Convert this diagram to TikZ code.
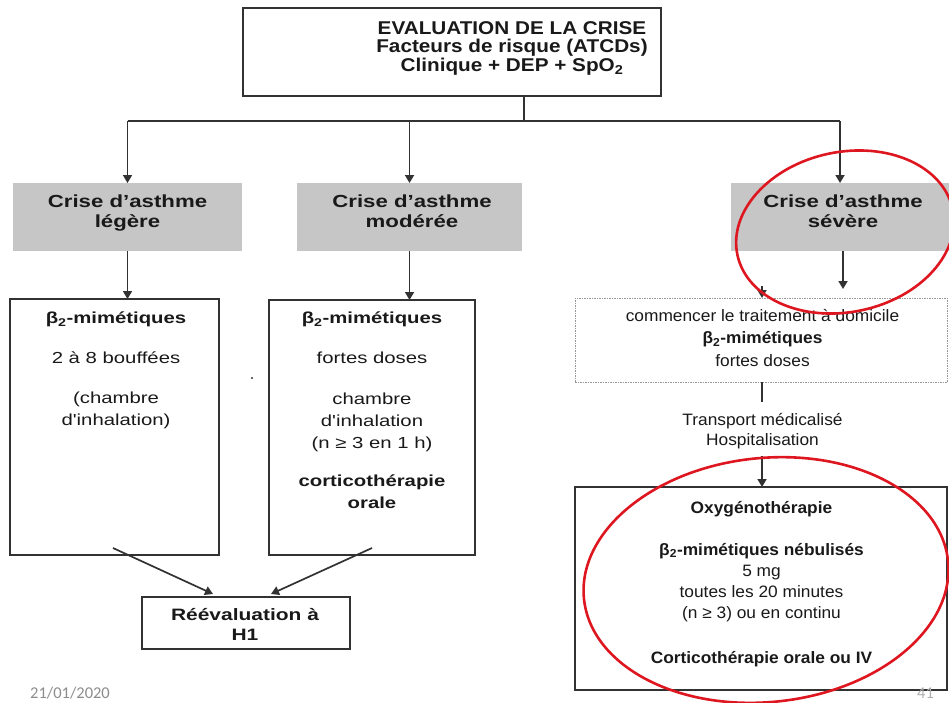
\documentclass[tikz,border=0pt]{standalone}
\usepackage{fontspec}
\usetikzlibrary{arrows.meta}

% Arial-metric sans faces, widened to the proportions of the slide text
\newfontfamily\topfont[FakeStretch=1.12]{Liberation Sans}
\newfontfamily\leftfont[FakeStretch=1.27]{Liberation Sans}
\newfontfamily\rightfont[FakeStretch=1.05]{Liberation Sans}
\newfontfamily\datefont{Carlito}

\definecolor{ink}{RGB}{25,25,25}
\definecolor{framecol}{RGB}{50,50,50}
\definecolor{boxgray}{RGB}{198,198,198}
\definecolor{dotcol}{RGB}{150,150,150}
\definecolor{ringred}{RGB}{222,22,32}
\definecolor{datecol}{RGB}{140,140,140}
\definecolor{pagecol}{RGB}{175,175,175}

\begin{document}
\begin{tikzpicture}[x=1pt,y=-1pt,
  framebox/.style={draw=framecol, line width=1.6pt, inner sep=0pt, outer sep=0pt},
  graybox/.style={fill=boxgray, draw=none, inner sep=0pt, outer sep=0pt},
  dotbox/.style={draw=dotcol, line width=0.9pt, dash pattern=on 1.5pt off 1pt, inner sep=0pt, outer sep=0pt},
  txt/.style={text=ink, align=center, inner sep=0pt, anchor=north},
  arr/.style={draw=framecol, line width=1.7pt, -{Triangle[length=8pt,width=9pt]}},
  conn/.style={draw=framecol, line width=1.7pt},
  ring/.style={draw=ringred, line width=2.6pt},
  lbold/.style={font=\leftfont\bfseries\fontsize{17.5}{20}\selectfont},
  lbody/.style={font=\leftfont\fontsize{16}{22}\selectfont},
  rbody/.style={font=\rightfont\fontsize{16.5}{22.5}\selectfont}]
\useasboundingbox (0,0) rectangle (949,702);

% ---- assessment box
\node[framebox, minimum width=418pt, minimum height=88pt] (eval) at (452,52) {};
\node[txt, font=\topfont\bfseries\fontsize{18.5}{18.8}\selectfont] (evaltxt) at (512,21)
  {EVALUATION DE LA CRISE\\Facteurs de risque (ATCDs)\\Clinique + DEP + SpO\textsubscript{2}};

% ---- severity levels
\node[graybox, minimum width=229pt, minimum height=68pt] (legere) at (127.5,217) {};
\node[graybox, minimum width=225pt, minimum height=68pt] (moderee) at (409.5,217) {};
\node[graybox, minimum width=218pt, minimum height=68pt] (severe) at (840,217) {};
\node[txt, lbold] (legeretxt) at (127.5,195) {Crise d’asthme\\légère};
\node[txt, lbold] (modereetxt) at (412,195) {Crise d’asthme\\modérée};
\node[txt, lbold] (severetxt) at (843,195) {Crise d’asthme\\sévère};

\coordinate (hub) at (524,121);
\draw[conn] (eval.south -| hub) -- (hub);
\draw[conn] (legere.north |- hub) -- (severe.north |- hub);
\draw[arr] (legere.north |- hub) -- (legere.north);
\draw[arr] (moderee.north |- hub) -- (moderee.north);
\draw[arr] (severe.north |- hub) -- (severe.north);

% ---- mild attack
\node[framebox, minimum width=209pt, minimum height=256pt] (mild) at (114.5,427) {};
\node[txt, lbody] (mildtxt) at (116,312)
  {\textbf{β\textsubscript{2}-mimétiques}\\[18pt]2 à 8 bouffées\\[18pt](chambre\\d'inhalation)};
\draw[arr] (legere.south) -- (legere.south |- mild.north);

% ---- moderate attack
\node[framebox, minimum width=206pt, minimum height=255pt] (moder) at (372,427.5) {};
\node[txt, lbody] (modertxt) at (372,312)
  {\textbf{β\textsubscript{2}-mimétiques}\\[18pt]fortes doses\\[19pt]chambre\\d'inhalation\\(n ≥ 3 en 1 h)\\[16pt]\textbf{corticothérapie}\\\textbf{orale}};
\draw[arr] (moderee.south) -- (moderee.south |- moder.north);
\fill[framecol] (252,378) circle (1.1pt);

% ---- reassessment
\node[framebox, minimum width=208pt, minimum height=52pt] (reeval) at (246,623) {};
\node[txt, font=\leftfont\bfseries\fontsize{16.5}{20}\selectfont] (reevaltxt) at (245,608)
  {Réévaluation à\\H1};
\draw[arr] ([xshift=-1.5pt,yshift=7pt]mild.south) -- ([xshift=-33pt,yshift=3pt]reeval.north);
\draw[arr] ([yshift=7pt]moder.south) -- ([xshift=25pt,yshift=3pt]reeval.north);

% ---- severe attack
\node[dotbox, minimum width=372pt, minimum height=84pt] (home) at (761,340) {};
\node[txt, rbody] (hometxt) at (762.5,309)
  {commencer le traitement à domicile\\\textbf{β\textsubscript{2}-mimétiques}\\fortes doses};
\coordinate (sevend) at (843,289);
\coordinate (homein) at (762,286);
\draw[arr] (severe.south -| sevend) -- (sevend);
\draw[arr] (homein) -- (homein |- home.north);

\coordinate (transtop) at (762,402);
\coordinate (transbot) at (762,456);
\draw[conn] (home.south -| transtop) -- (transtop);
\node[txt, font=\rightfont\fontsize{16.5}{20}\selectfont] (transport) at (762.5,413)
  {Transport médicalisé\\Hospitalisation};

\node[framebox, minimum width=372pt, minimum height=203pt] (hosp) at (761,588.5) {};
\draw[arr] (transbot) -- (transbot |- hosp.north);
\node[txt, font=\rightfont\fontsize{16.5}{21}\selectfont] (hosptxt) at (761.5,501)
  {\textbf{Oxygénothérapie}\\[21pt]\textbf{β\textsubscript{2}-mimétiques nébulisés}\\5 mg\\toutes les 20 minutes\\(n ≥ 3) ou en continu\\[24pt]\textbf{Corticothérapie orale ou IV}};

% ---- footer
\node[anchor=base west, inner sep=0pt, text=datecol, font=\datefont\fontsize{16.5}{16.5}\selectfont] (date) at (30,698) {21/01/2020};
\node[anchor=base west, inner sep=0pt, text=pagecol, font=\datefont\fontsize{16.5}{16.5}\selectfont] (pageno) at (917,698) {41};

% ---- highlight rings
\draw[ring, rotate around={12:(845,232)}] (845,232) ellipse [x radius=110, y radius=80];
\draw[ring, rotate around={6:(766,580)}] (766,580) ellipse [x radius=183, y radius=122];
\end{tikzpicture}
\end{document}
